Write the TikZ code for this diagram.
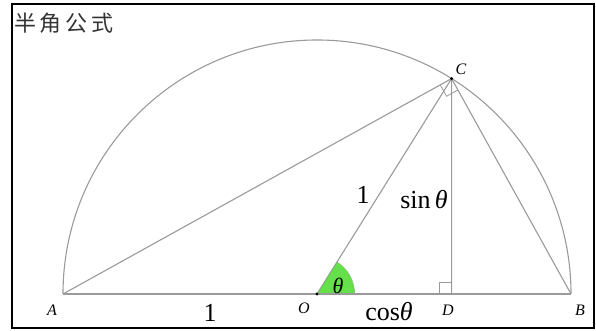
\documentclass[tikz,border=0pt]{standalone}
\usepackage{fontspec}
\setmainfont{Liberation Serif}
\newfontfamily\cjkfont{Noto Sans CJK SC}
\usetikzlibrary{calc}
\definecolor{lineGray}{HTML}{9A9A9A}
\definecolor{wedgeGreen}{HTML}{66E04A}
\tikzset{
  geoline/.style={draw=lineGray, line width=1.1pt},
  ptlabel/.style={font=\fontsize{16}{18}\selectfont\itshape, inner sep=0pt},
  biglabel/.style={font=\fontsize{26}{30}\selectfont, inner sep=0pt},
  ptdot/.style={fill=black, draw=none}
}

\begin{document}
\begin{tikzpicture}[x=1pt,y=1pt]
  \useasboundingbox (0,0) rectangle (596,331);
  \draw[line width=2.5pt] (12,3) rectangle (594,327);
  \node[anchor=west, font=\cjkfont\fontsize{22}{24}\selectfont, inner sep=0pt, text=black!80] (title) at (14,308) {半\,角\,公\,式};

  \def\R{254}
  \def\ang{58}
  \coordinate (O) at (317,37);
  \coordinate (A) at ($(O)+(180:\R)$);
  \coordinate (B) at ($(O)+(0:\R)$);
  \coordinate (C) at ($(O)+(\ang:\R)$);
  \coordinate (D) at (C |- O);

  % angle theta
  \fill[wedgeGreen] (O) -- ++(38,0) arc[start angle=0, end angle=\ang, radius=38] -- cycle;

  % half circle and triangle
  \draw[geoline] (B) arc[start angle=0, end angle=180, radius=\R];
  \draw[geoline] (A) -- (B);
  \draw[geoline] (A) -- (C) -- (B);
  \draw[geoline] (O) -- (C) -- (D);

  % right angles
  \coordinate (ca) at ($(C)!13pt!(A)$);
  \coordinate (cb) at ($(C)!13pt!(B)$);
  \draw[geoline, line width=0.8pt] (ca) -- ($(ca)+(cb)-(C)$) -- (cb);
  \draw[geoline, line width=0.8pt] ($(D)+(-12,0)$) -- ++(0,12) -- ++(12,0);

  \fill[ptdot] (O) circle (1.6);
  \fill[ptdot] (C) circle (1.6);

  \node[ptlabel] (lA) at (52,21) {A};
  \node[ptlabel] (lB) at (580,21) {B};
  \node[ptlabel] (lC) at (461,262) {C};
  \node[ptlabel] (lD) at (448,21) {D};
  \node[ptlabel] (lO) at (304,23) {O};

  \node[biglabel] (one) at (210,18) {1};
  \node[biglabel] (oneC) at (363,136) {1};
  \node[biglabel] (sin) at (424,131) {sin\,\textit{θ}};
  \node[biglabel] (cos) at (389,19) {cos\textit{θ}};
  \node[font=\fontsize{22}{24}\selectfont\itshape, inner sep=0pt] (th) at (338,45) {θ};
\end{tikzpicture}
\end{document}
